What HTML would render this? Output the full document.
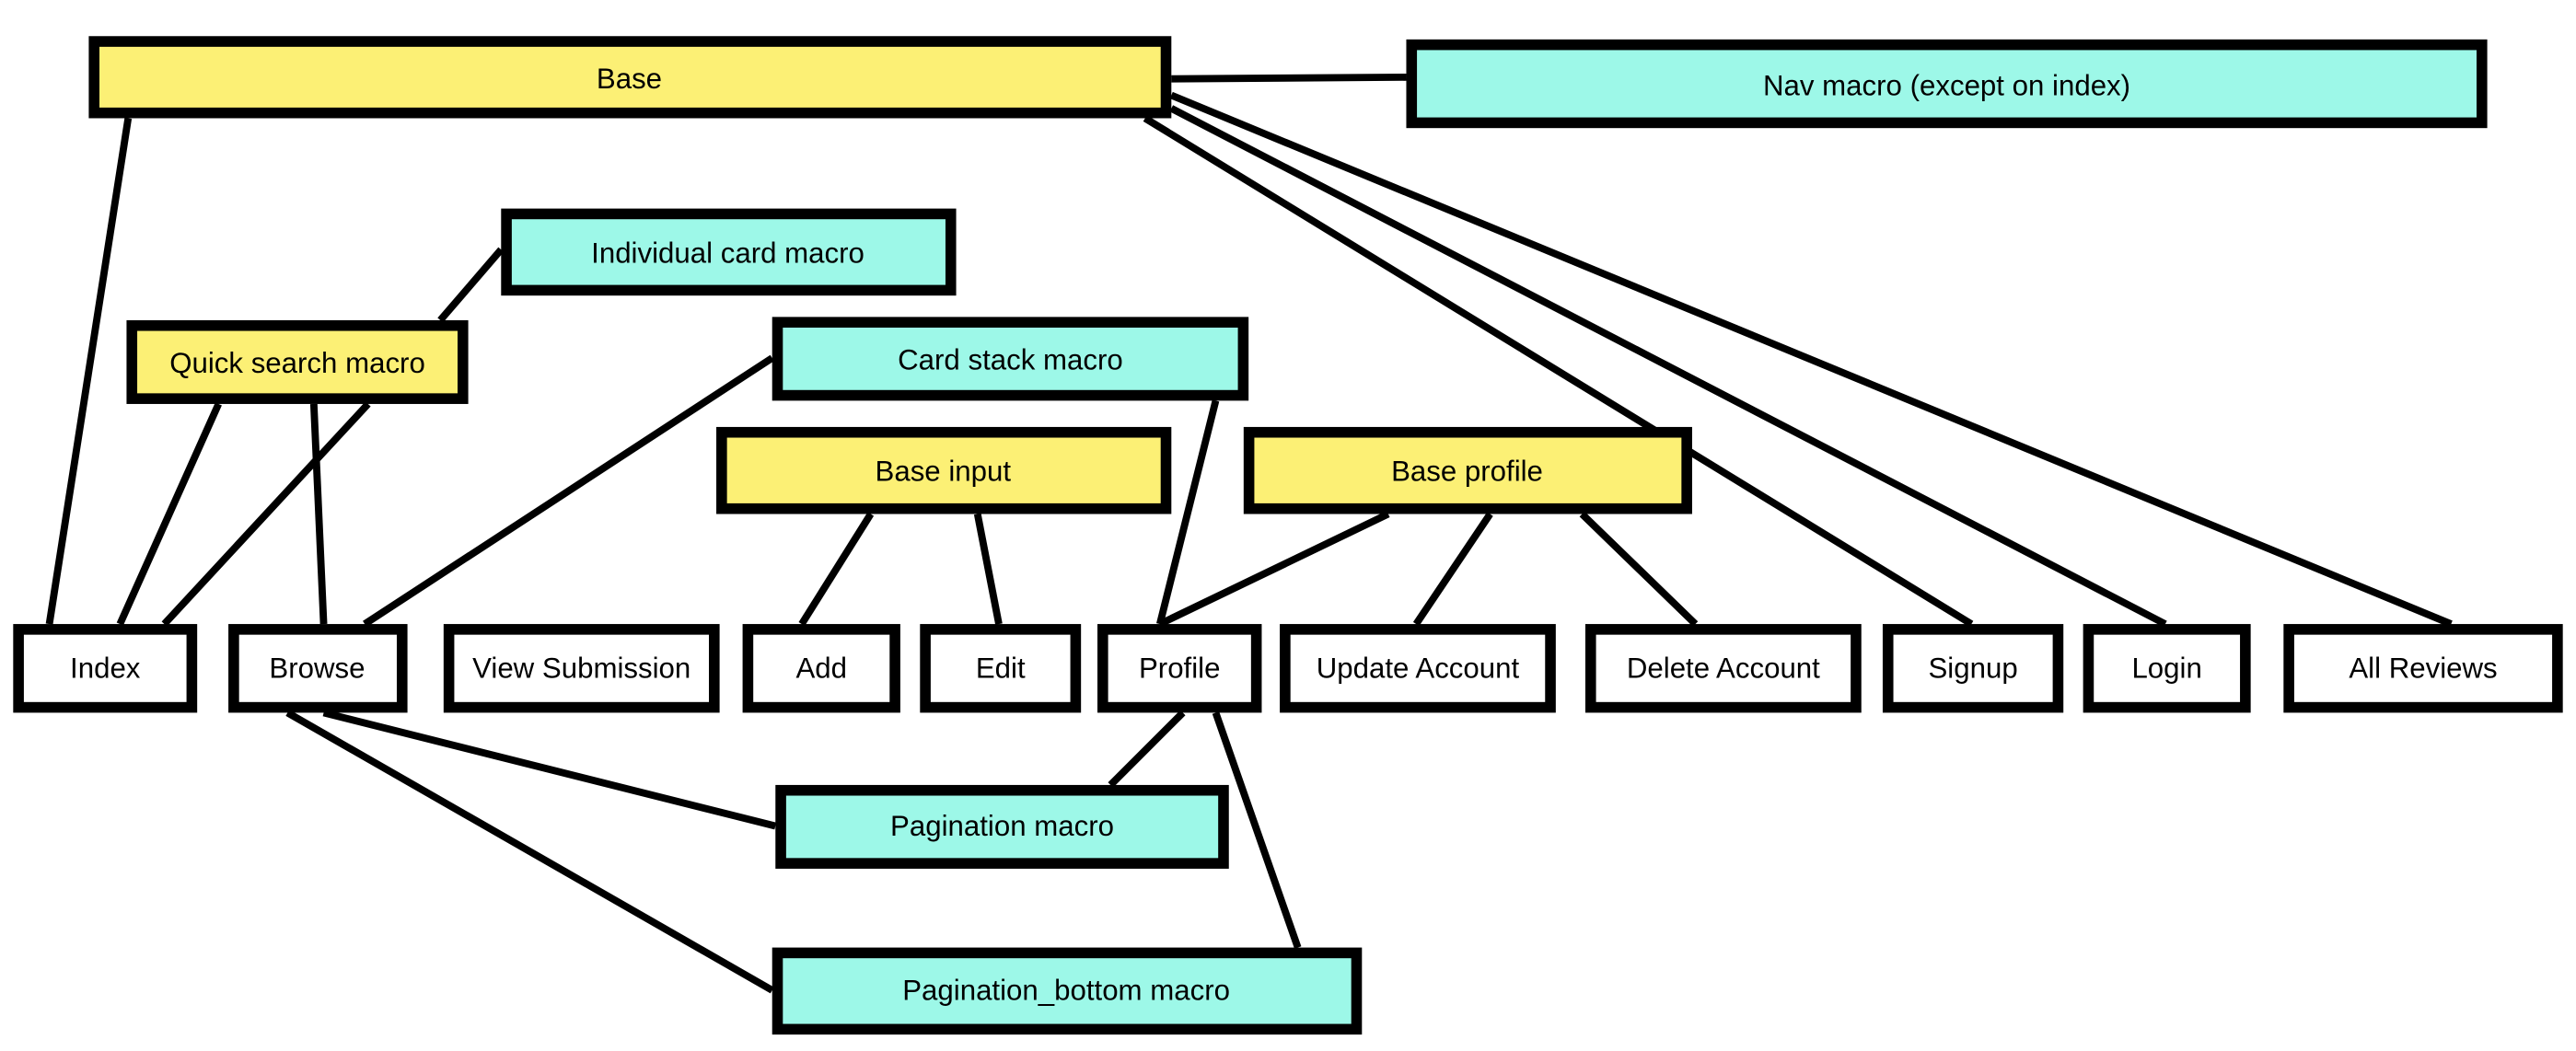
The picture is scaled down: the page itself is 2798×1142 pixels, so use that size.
<!DOCTYPE html>
<html><head><meta charset="utf-8"><style>
html,body{margin:0;padding:0;background:#fff;}
svg{display:block;}
text{font-family:"Liberation Sans",sans-serif;font-size:17.5px;fill:#000;text-anchor:middle;dominant-baseline:central;}
</style></head><body>
<svg width="2798" height="1142" viewBox="0 0 1568 640" xmlns="http://www.w3.org/2000/svg">
<g stroke="#000" stroke-width="4.4" fill="none">
<line x1="713" y1="48" x2="856" y2="47"/>
<line x1="78" y1="72" x2="30" y2="380"/>
<line x1="697" y1="72" x2="1200" y2="380"/>
<line x1="713" y1="66" x2="1318" y2="380"/>
<line x1="713" y1="58" x2="1492" y2="380"/>
<line x1="305" y1="152" x2="268" y2="195"/>
<line x1="133" y1="246" x2="73" y2="380"/>
<line x1="224" y1="246" x2="100" y2="380"/>
<line x1="191" y1="246" x2="197" y2="380"/>
<line x1="470" y1="218" x2="222" y2="380"/>
<line x1="740" y1="244" x2="706" y2="380"/>
<line x1="530" y1="313" x2="488" y2="380"/>
<line x1="595" y1="313" x2="608" y2="380"/>
<line x1="845" y1="313" x2="706" y2="380"/>
<line x1="907" y1="313" x2="862" y2="380"/>
<line x1="963" y1="313" x2="1032" y2="380"/>
<line x1="197" y1="434" x2="472" y2="503"/>
<line x1="175" y1="434" x2="470" y2="603"/>
<line x1="720" y1="434" x2="676" y2="478"/>
<line x1="740" y1="434" x2="790" y2="577"/>
</g>
<g stroke="#000" stroke-width="6.5">
<rect x="57.25" y="25.25" width="652.5" height="43.5" fill="#FCF075"/>
<rect x="859.25" y="27.25" width="651.5" height="47.5" fill="#9DF8E8"/>
<rect x="308.25" y="130.25" width="270.5" height="46.5" fill="#9DF8E8"/>
<rect x="80.25" y="198.25" width="201.5" height="44.5" fill="#FCF075"/>
<rect x="473.25" y="196.25" width="283.5" height="44.5" fill="#9DF8E8"/>
<rect x="439.25" y="263.25" width="270.5" height="46.5" fill="#FCF075"/>
<rect x="760.25" y="263.25" width="266.5" height="46.5" fill="#FCF075"/>
<rect x="11.25" y="383.25" width="105.5" height="47.5" fill="#fff"/>
<rect x="142.25" y="383.25" width="102.5" height="47.5" fill="#fff"/>
<rect x="273.25" y="383.25" width="161.5" height="47.5" fill="#fff"/>
<rect x="455.25" y="383.25" width="89.5" height="47.5" fill="#fff"/>
<rect x="563.25" y="383.25" width="91.5" height="47.5" fill="#fff"/>
<rect x="671.25" y="383.25" width="93.5" height="47.5" fill="#fff"/>
<rect x="782.25" y="383.25" width="161.5" height="47.5" fill="#fff"/>
<rect x="968.25" y="383.25" width="161.5" height="47.5" fill="#fff"/>
<rect x="1149.25" y="383.25" width="103.5" height="47.5" fill="#fff"/>
<rect x="1271.25" y="383.25" width="95.5" height="47.5" fill="#fff"/>
<rect x="1393.25" y="383.25" width="163.5" height="47.5" fill="#fff"/>
<rect x="475.25" y="481.25" width="269.5" height="44.5" fill="#9DF8E8"/>
<rect x="473.25" y="580.25" width="352.5" height="46.5" fill="#9DF8E8"/>
</g>
<text x="383" y="48">Base</text>
<text x="1185" y="52">Nav macro (except on index)</text>
<text x="443" y="154">Individual card macro</text>
<text x="181" y="221">Quick search macro</text>
<text x="615" y="219">Card stack macro</text>
<text x="574" y="287">Base input</text>
<text x="893" y="287">Base profile</text>
<text x="64" y="407">Index</text>
<text x="193" y="407">Browse</text>
<text x="354" y="407">View Submission</text>
<text x="500" y="407">Add</text>
<text x="609" y="407">Edit</text>
<text x="718" y="407">Profile</text>
<text x="863" y="407">Update Account</text>
<text x="1049" y="407">Delete Account</text>
<text x="1201" y="407">Signup</text>
<text x="1319" y="407">Login</text>
<text x="1475" y="407">All Reviews</text>
<text x="610" y="503">Pagination macro</text>
<text x="649" y="603">Pagination_bottom macro</text>
</svg>
</body></html>
